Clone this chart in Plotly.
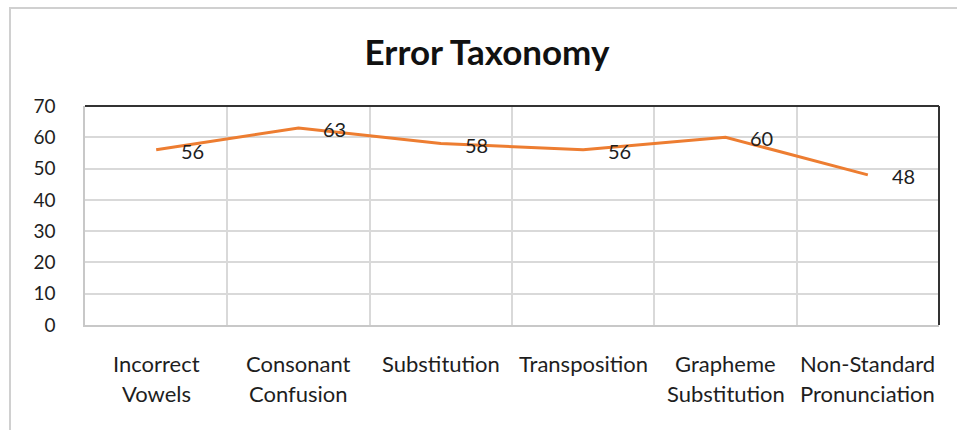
import plotly.graph_objects as go

# ---- data ----
categories = ["Incorrect Vowels", "Consonant Confusion", "Substitution",
              "Transposition", "Grapheme Substitution", "Non-Standard Pronunciation"]
label_lines = [["Incorrect", "Vowels"], ["Consonant", "Confusion"], ["Substitution"],
               ["Transposition"], ["Grapheme", "Substitution"], ["Non-Standard", "Pronunciation"]]
values = [56, 63, 58, 56, 60, 48]
y_ticks = [0, 10, 20, 30, 40, 50, 60, 70]
title_text = "Error Taxonomy"

W, H = 957, 430
L, R, T, B = 85, 18, 106, 105
plot_w = W - L - R
plot_h = H - T - B

FONT = "Lato"
TXT = "#1e1e1e"
GRID = "#D9D9D9"

fig = go.Figure()
fig.add_trace(go.Scatter(
    x=categories, y=values, mode="lines",
    line=dict(color="#ED7D31", width=3),
    hoverinfo="x+y", showlegend=False,
))

annotations = []
# data labels to the right of each point
for c, v in zip(categories, values):
    annotations.append(dict(x=c, y=v, xref="x", yref="y", text=str(v),
                            showarrow=False, xshift=36, yshift=-1,
                            font=dict(family=FONT, size=20, color=TXT),
                            xanchor="center", yanchor="middle"))
# category labels, one annotation per line
line_y_px = [363, 393]
for c, lines in zip(categories, label_lines):
    for i, ln in enumerate(lines):
        annotations.append(dict(x=c, y=-(line_y_px[i] - (T + plot_h)) / plot_h,
                                xref="x", yref="paper", text=ln, showarrow=False,
                                font=dict(family=FONT, size=22, color=TXT),
                                xanchor="center", yanchor="middle"))

def px_x(p):
    return (p - L) / plot_w

def px_y(p):
    return (T + plot_h - p) / plot_h

shapes = [
    # outer chart frame
    dict(type="rect", xref="paper", yref="paper",
         x0=px_x(10), x1=px_x(W + 20), y0=px_y(H + 20), y1=px_y(8),
         line=dict(color="#D0D0D0", width=2), layer="below"),
    # plot area dark top and right edges
    dict(type="line", xref="paper", yref="paper", x0=0, x1=1, y0=1, y1=1,
         line=dict(color="#333333", width=2)),
    dict(type="line", xref="paper", yref="paper", x0=1, x1=1, y0=0, y1=1,
         line=dict(color="#333333", width=2)),
]

fig.update_layout(
    width=W, height=H,
    margin=dict(l=L, r=R, t=T, b=B),
    paper_bgcolor="white", plot_bgcolor="white",
    title=dict(text="<b>" + title_text + "</b>", x=487 / W, xref="container",
               xanchor="center", y=1 - 53 / H, yref="container", yanchor="middle",
               font=dict(family=FONT, size=35, color="#111111")),
    xaxis=dict(type="category", tickson="boundaries", showgrid=True,
               gridcolor=GRID, gridwidth=1.5, showticklabels=False, ticks="",
               showline=True, linecolor="#C8C8C8", linewidth=1.5,
               range=[-0.5, len(categories) - 0.5], fixedrange=True),
    yaxis=dict(range=[0, 70], tickvals=y_ticks, ticktext=[str(t) for t in y_ticks],
               showgrid=True, gridcolor=GRID, gridwidth=1.5, zeroline=False,
               showline=True, linecolor="#C8C8C8", linewidth=1.5,
               tickfont=dict(family=FONT, size=19, color=TXT),
               ticks="", ticklabelstandoff=24, fixedrange=True),
    annotations=annotations,
    shapes=shapes,
    font=dict(family=FONT, color=TXT),
)

fig.write_html("out.html", config={"displayModeBar": False})

# remove the default page margin so the figure sits at the window origin
with open("out.html", "r", encoding="utf-8") as f:
    html = f.read()
html = html.replace("<head>", "<head><style>html,body{margin:0;padding:0;overflow:hidden;}</style>", 1)
with open("out.html", "w", encoding="utf-8") as f:
    f.write(html)
